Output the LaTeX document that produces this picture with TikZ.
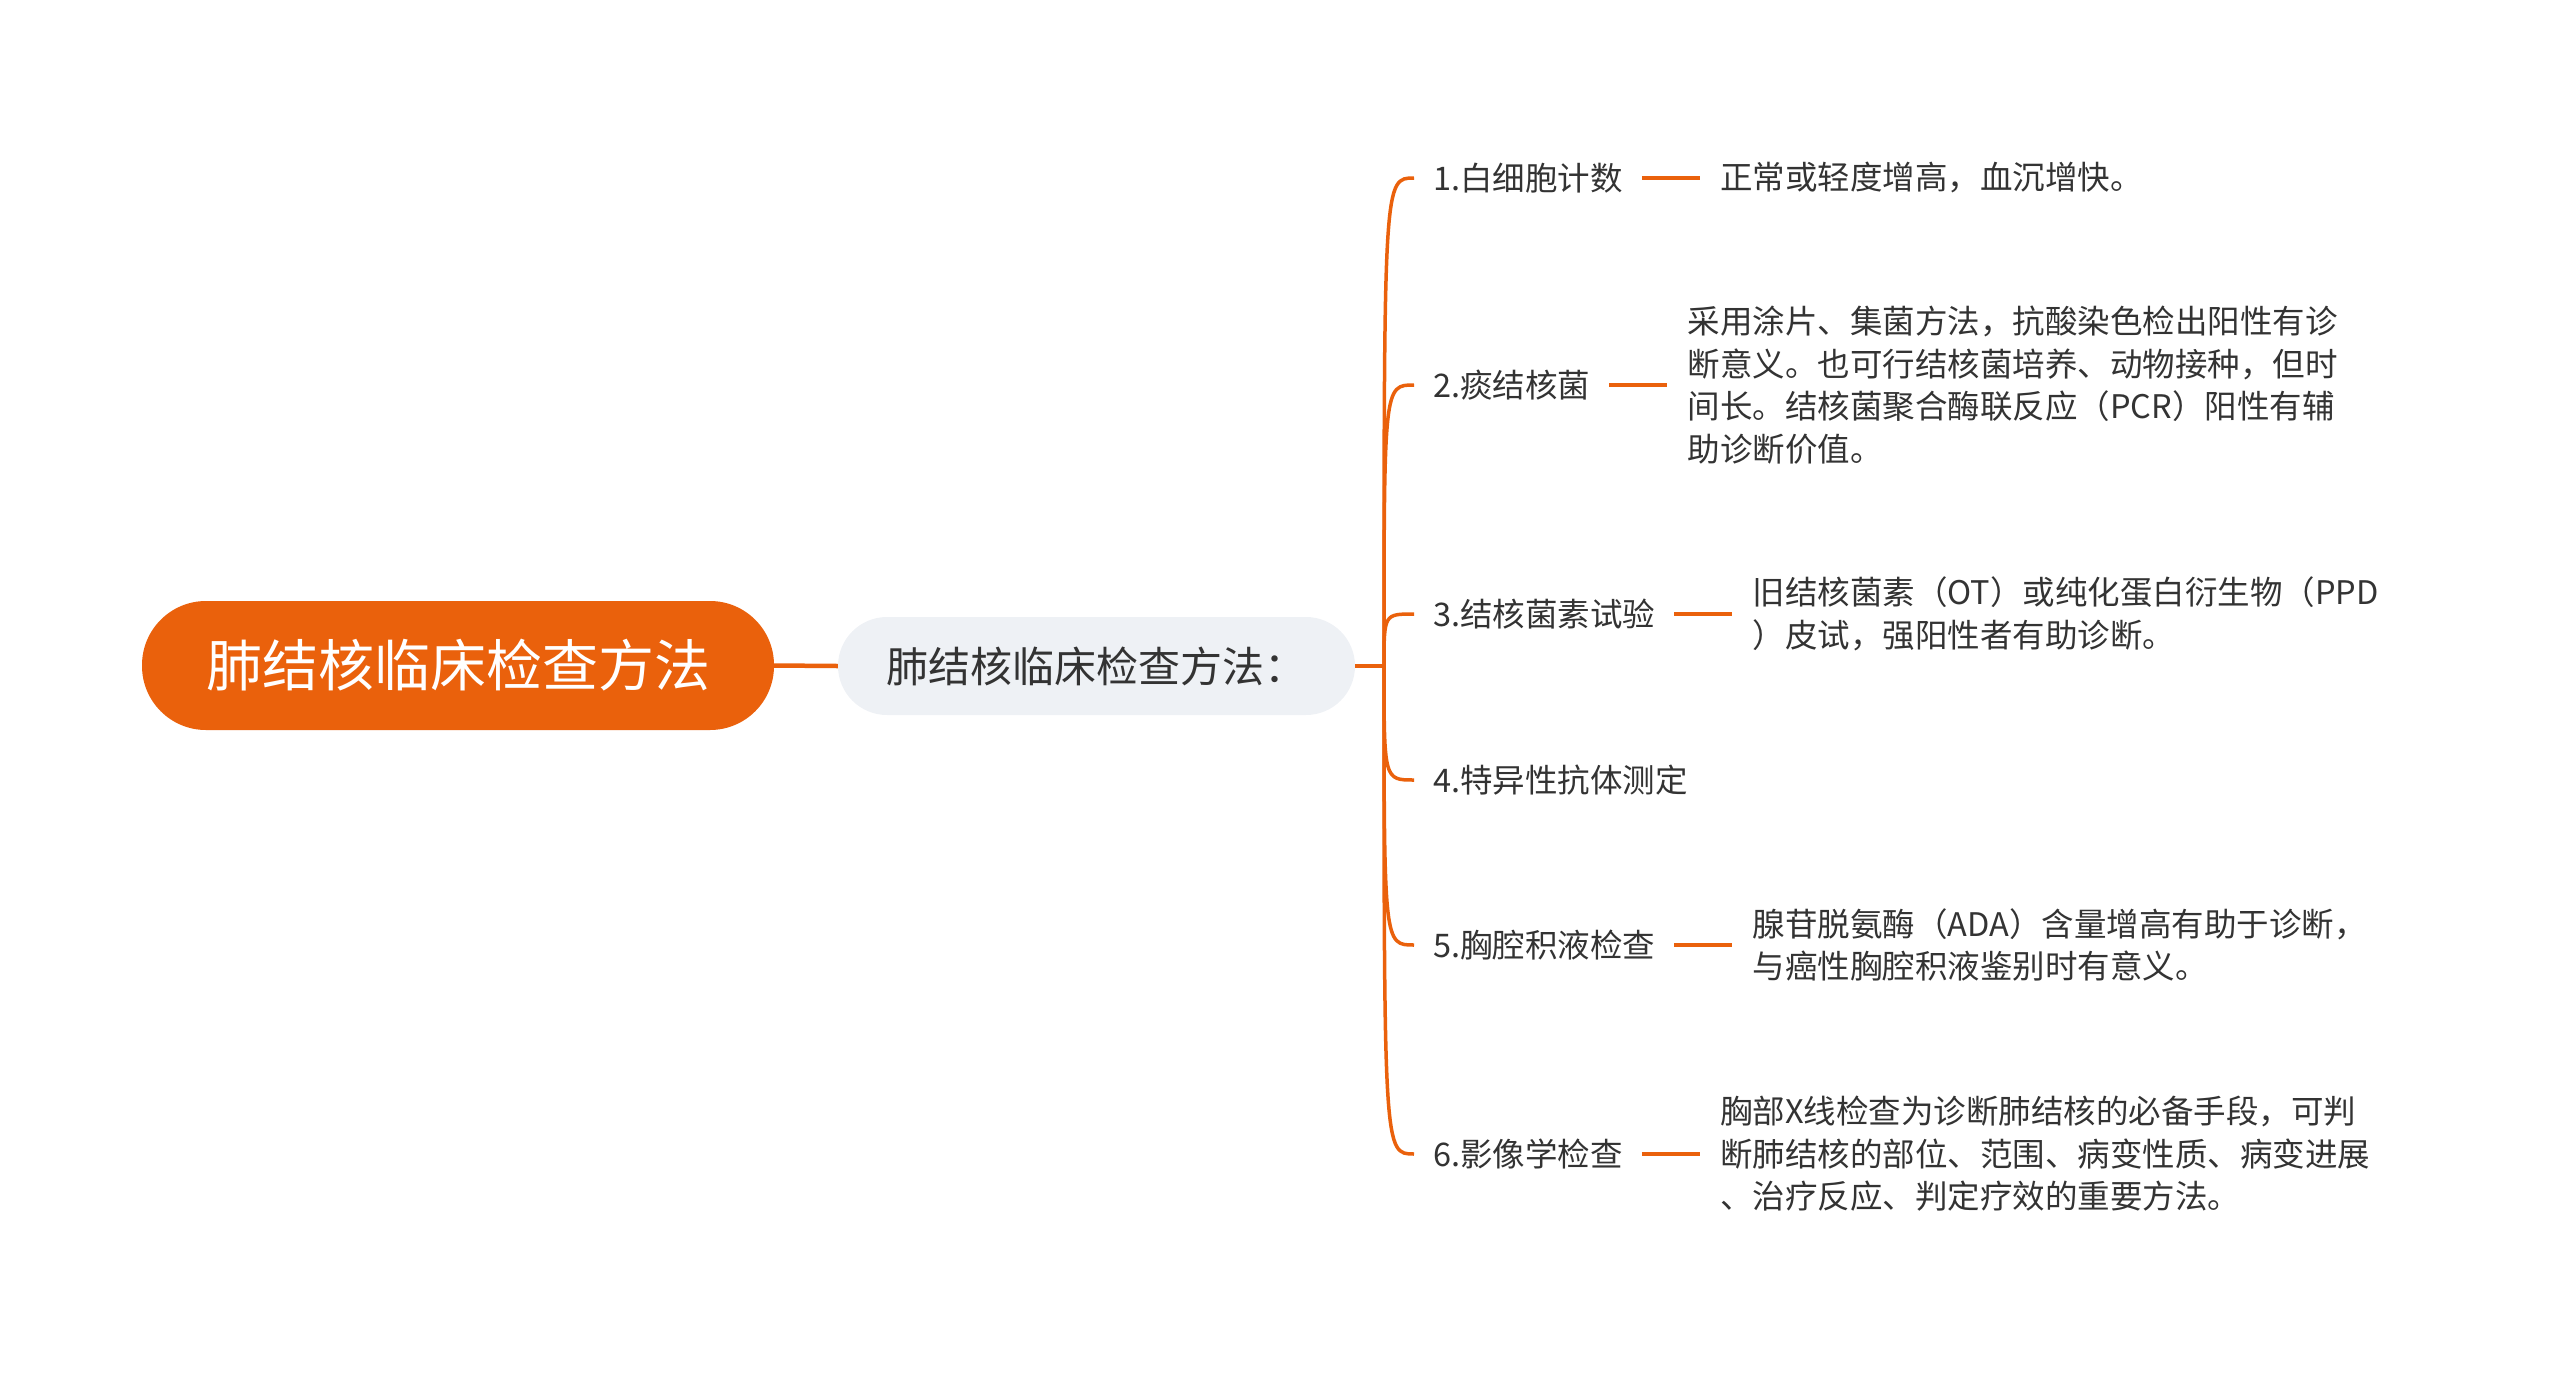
\documentclass[tikz,border=0pt]{standalone}
\usepackage{fontspec}
\setmainfont{Noto Sans CJK SC}
\usetikzlibrary{positioning}

\definecolor{mainorange}{RGB}{234,97,12}
\definecolor{subgray}{RGB}{238,241,245}
\definecolor{textgray}{RGB}{51,51,51}

\tikzset{
    rootbox/.style={fill=mainorange, text=white, rounded corners=64pt,
        minimum width=632pt, minimum height=129pt, inner sep=0pt,
        font=\fontsize{56}{62}\selectfont},
    subbox/.style={fill=subgray, text=textgray, rounded corners=49pt,
        minimum width=517pt, minimum height=98pt, inner sep=0pt,
        font=\fontsize{42}{48}\selectfont},
    item/.style={text=textgray, anchor=west, inner xsep=19pt, inner ysep=0pt,
        font=\fontsize{32.5}{42.5}\selectfont},
    leaf/.style={text=textgray, align=left, inner xsep=20pt, inner ysep=0pt,
        font=\fontsize{32.5}{42.5}\selectfont, right=58pt of #1},
    link/.style={draw=mainorange, line width=4.5pt},
    branch/.style={draw=mainorange, line width=3.5pt},
}

\begin{document}
\begin{tikzpicture}[x=1pt, y=-1pt]
    \useasboundingbox (0,0) rectangle (2560,1374);

    % main topic and its one child
    \node[rootbox] (root) at (458,665.5) {肺结核临床检查方法};
    \node[subbox] (sub) at (1096.5,666) {肺结核临床检查方法：};
    \coordinate (hub) at (1384,666);
    \draw[link] (root.east) -- (sub.west);
    \draw[link] (sub.east) -- (hub);

    % the six methods
    \node[item] (c1) at (1414,178) {1.白细胞计数};
    \node[item] (c2) at (1414,385) {2.痰结核菌};
    \node[item] (c3) at (1414,614) {3.结核菌素试验};
    \node[item] (c4) at (1414,780) {4.特异性抗体测定};
    \node[item] (c5) at (1414,945) {5.胸腔积液检查};
    \node[item] (c6) at (1414,1154) {6.影像学检查};

    \foreach \c in {c1,c2,c3,c4,c5,c6}
        \draw[branch] (hub) .. controls (hub |- \c.west) .. (\c.west);

    % notes
    \node[leaf=c1] (l1) {正常或轻度增高，血沉增快。};
    \node[leaf=c2] (l2) {采用涂片、集菌方法，抗酸染色检出阳性有诊\\断意义。也可行结核菌培养、动物接种，但时\\间长。结核菌聚合酶联反应（PCR）阳性有辅\\助诊断价值。};
    \node[leaf=c3] (l3) {旧结核菌素（OT）或纯化蛋白衍生物（PPD\\）皮试，强阳性者有助诊断。};
    \node[leaf=c5] (l5) {腺苷脱氨酶（ADA）含量增高有助于诊断，\\与癌性胸腔积液鉴别时有意义。};
    \node[leaf=c6] (l6) {胸部X线检查为诊断肺结核的必备手段，可判\\断肺结核的部位、范围、病变性质、病变进展\\、治疗反应、判定疗效的重要方法。};

    \foreach \c/\l in {c1/l1,c2/l2,c3/l3,c5/l5,c6/l6}
        \draw[link] (\c.east) -- (\l.west);
\end{tikzpicture}
\end{document}
